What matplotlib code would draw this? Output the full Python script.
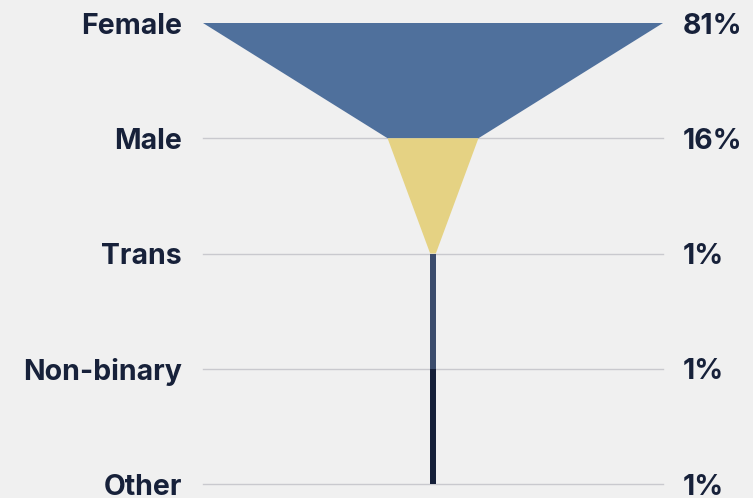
"""
Gender breakdown drawn as a funnel with labels on both sides.
"""

import matplotlib.pyplot as plt
from matplotlib.patches import Polygon
from matplotlib.transforms import blended_transform_factory, offset_copy

categories = ["Female", "Male", "Trans", "Non-binary", "Other"]
shares = [81, 16, 1, 1, 1]
pct_labels = ["81%", "16%", "1%", "1%", "1%"]
segment_colors = ["#4F709C", "#E5D283", "#3B4C6C", "#151F38"]

BG = "#F0F0F0"
TEXT = "#17213A"
GRID = "#C9C9CE"

fig = plt.figure(figsize=(7.53, 4.98), dpi=100, facecolor=BG)
ax = fig.add_axes([0, 0, 1, 1])
ax.set_facecolor(BG)

# horizontal scale: widest bar spans 460 px, centred at x=433 px
px_per_unit = 460 / max(shares)
center_px = 433
ax.set_xlim(-center_px / px_per_unit, (753 - center_px) / px_per_unit)

# rows sit at y=23 px (first) to y=484 px (last)
row_px = (484 - 23) / (len(categories) - 1)
ax.set_ylim((498 - 23) / row_px, -23 / row_px)
ax.axis("off")

half = max(shares) / 2
for i in range(1, len(categories)):
    ax.plot([-half, half], [i, i], color=GRID, linewidth=1, zorder=1)

for i in range(len(categories) - 1):
    a, b = shares[i] / 2, shares[i + 1] / 2
    poly = Polygon([(-a, i), (a, i), (b, i + 1), (-b, i + 1)],
                   closed=True, facecolor=segment_colors[i],
                   edgecolor="none", zorder=2)
    ax.add_patch(poly)

trans = blended_transform_factory(ax.transAxes, ax.transData)
trans = offset_copy(trans, fig=fig, y=-3, units="dots")
label_style = dict(fontsize=20.5, fontweight="bold", color=TEXT,
                   family="Inter", va="center")
for i, (cat, pct) in enumerate(zip(categories, pct_labels)):
    ax.text(182 / 753, i, cat, transform=trans, ha="right", **label_style)
    ax.text(683 / 753, i, pct, transform=trans, ha="left", **label_style)

fig.savefig("out.png", dpi=100, facecolor=BG)
